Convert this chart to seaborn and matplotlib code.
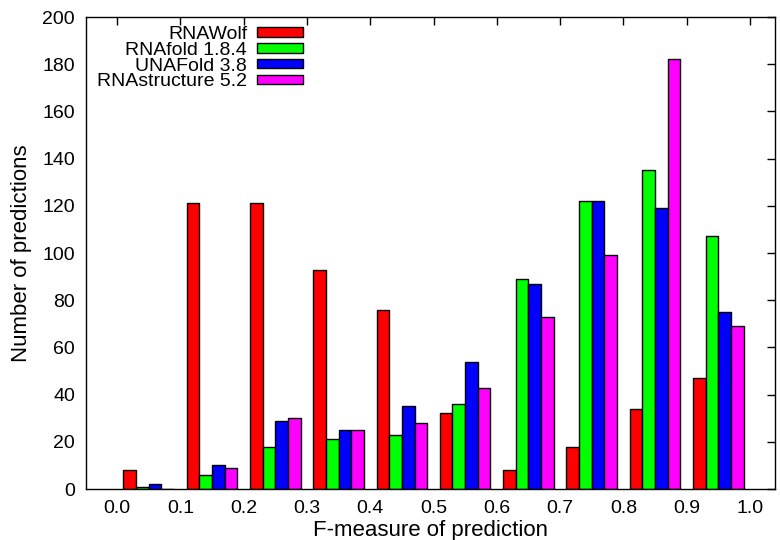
import numpy as np
import pandas as pd
import matplotlib
matplotlib.use('Agg')
import matplotlib.pyplot as plt
import seaborn as sns

# valores
bins = ['0.0-0.1', '0.1-0.2', '0.2-0.3', '0.3-0.4', '0.4-0.5',
        '0.5-0.6', '0.6-0.7', '0.7-0.8', '0.8-0.9', '0.9-1.0']
methods = ['RNAWolf', 'RNAfold 1.8.4', 'UNAFold 3.8', 'RNAstructure 5.2']
rnawolf = [8, 121, 121, 93, 76, 32, 8, 18, 34, 47]
rnafold = [1, 6, 18, 21, 23, 36, 89, 122, 135, 107]
unafold = [2, 10, 29, 25, 35, 54, 87, 122, 119, 75]
rnastructure = [0, 9, 30, 25, 28, 43, 73, 99, 182, 69]
tick_labels = ['0.0', '0.1', '0.2', '0.3', '0.4', '0.5',
               '0.6', '0.7', '0.8', '0.9', '1.0']
colors = ['#ff0000', '#00ff00', '#0000ff', '#ff00ff']

df = pd.DataFrame({
    'bin': bins * 4,
    'method': np.repeat(methods, len(bins)),
    'count': rnawolf + rnafold + unafold + rnastructure,
})

sns.set_style('white')
plt.rcParams['font.family'] = ['Liberation Sans', 'DejaVu Sans']
plt.rcParams['text.color'] = 'black'
plt.rcParams['axes.labelcolor'] = 'black'
plt.rcParams['xtick.color'] = 'black'
plt.rcParams['ytick.color'] = 'black'

fig = plt.figure(figsize=(7.8, 5.4), dpi=100)
ax = fig.add_axes([86/780, 1-489/540, (775-86)/780, (489-17)/540])

sns.barplot(data=df, x='bin', y='count', hue='method', order=bins,
            hue_order=methods, palette=colors, saturation=1, width=0.8,
            edgecolor='black', linewidth=1, errorbar=None, ax=ax)

ax.set_xlim(-0.99, 9.895)
ax.set_ylim(0, 200)
ax.set_xticks(np.arange(len(tick_labels)) - 0.5)
ax.set_xticklabels(tick_labels)
ax.set_yticks(range(0, 201, 20))
ax.tick_params(direction='in', length=6, width=1, top=True, right=True,
               labelsize=14, pad=8)
for s in ax.spines.values():
    s.set_color('black')
    s.set_linewidth(1)
ax.set_xlabel('F-measure of prediction', fontsize=16, labelpad=2)
ax.set_ylabel('Number of predictions', fontsize=16, labelpad=7)

ax.legend(loc='upper right', bbox_to_anchor=(303/780, 1-26/540),
          bbox_transform=fig.transFigure, frameon=False, markerfirst=False,
          fontsize=14, handlelength=2.37, handleheight=0.36,
          labelspacing=-0.06, handletextpad=0.5, borderpad=0, borderaxespad=0)

fig.savefig('out.png', dpi=100)
